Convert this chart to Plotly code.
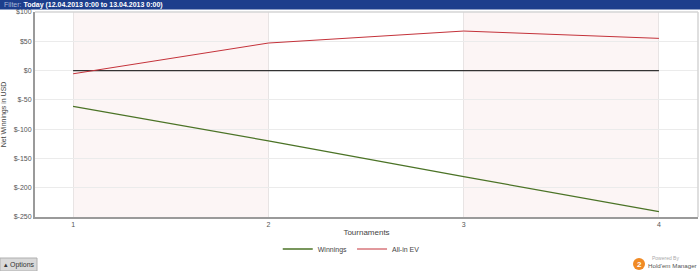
import plotly.graph_objects as go

tournaments = [1, 2, 3, 4]
winnings = [-61, -120, -181, -241]
allin_ev = [-5.5, 47, 67.5, 55]
zero_line = [0, 0, 0, 0]
y_ticks = [100, 50, 0, -50, -100, -150, -200, -250]
y_tick_labels = ["$100", "$50", "$0", "$-50", "$-100", "$-150", "$-200", "$-250"]

W, H = 700, 271
ML, MR, MT, MB = 35, 2, 12, 54
PH = H - MT - MB
PW = W - ML - MR

def py(pix):  # pixel from top -> paper y
    return (H - MB - pix) / PH

def px(pix):
    return (pix - ML) / PW

FONT = "Liberation Sans"
fig = go.Figure()

fig.add_trace(go.Scatter(x=tournaments, y=zero_line, mode="lines",
                         line=dict(color="#333333", width=1.3),
                         showlegend=False, hoverinfo="skip"))
fig.add_trace(go.Scatter(x=tournaments, y=winnings, mode="lines", name="Winnings",
                         line=dict(color="#4b7326", width=1.3)))
fig.add_trace(go.Scatter(x=tournaments, y=allin_ev, mode="lines", name="All-in EV",
                         line=dict(color="#c4323a", width=1)))

shapes = []
for a, b in [(1, 2), (3, 4)]:
    shapes.append(dict(type="rect", xref="x", yref="paper", x0=a, x1=b, y0=0, y1=1,
                       fillcolor="#fcf5f5", line=dict(width=0), layer="below"))
shapes.append(dict(type="line", xref="paper", yref="paper", x0=0, x1=1, y0=1, y1=1,
                   line=dict(color="#d4d4d4", width=1.5)))
shapes.append(dict(type="line", xref="paper", yref="paper", x0=1, x1=1, y0=0, y1=1,
                   line=dict(color="#d4d4d4", width=1.5)))
shapes.append(dict(type="rect", xref="paper", yref="paper", x0=px(0), x1=px(W),
                   y0=py(9.5), y1=py(0), fillcolor="#1d3e8c", line=dict(width=0)))
shapes.append(dict(type="rect", xref="paper", yref="paper", x0=px(0), x1=px(37),
                   y0=py(271), y1=py(258), fillcolor="#d9d9d9",
                   line=dict(color="#b0b0b0", width=1)))
shapes.append(dict(type="circle", xref="paper", yref="paper", x0=px(633), x1=px(645),
                   y0=py(270), y1=py(258), fillcolor="#f08a24", line=dict(width=0)))

annotations = [
    dict(xref="paper", yref="paper", x=px(2), y=py(4.8), xanchor="left", yanchor="middle",
         text="<span style='color:#aab8d8'>Filter:</span> <b>Today (12.04.2013 0:00 to 13.04.2013 0:00)</b>",
         showarrow=False, font=dict(family=FONT, size=7, color="#ffffff")),
    dict(xref="paper", yref="paper", x=px(19), y=py(264.5), xanchor="center", yanchor="middle",
         text="▴ Options", showarrow=False, font=dict(family=FONT, size=7, color="#333333")),
    dict(xref="paper", yref="paper", x=px(639), y=py(264), xanchor="center", yanchor="middle",
         text="<b>2</b>", showarrow=False, font=dict(family=FONT, size=8, color="#ffffff")),
    dict(xref="paper", yref="paper", x=px(650), y=py(258), xanchor="left", yanchor="middle",
         text="Powered By", showarrow=False, font=dict(family=FONT, size=5, color="#aaaaaa")),
    dict(xref="paper", yref="paper", x=px(699), y=py(265), xanchor="right", yanchor="middle",
         text="Hold'em Manager", showarrow=False, font=dict(family=FONT, size=6.2, color="#555555")),
]

fig.update_layout(
    width=W, height=H,
    margin=dict(l=ML, r=MR, t=MT, b=MB, pad=0),
    paper_bgcolor="#ffffff", plot_bgcolor="#ffffff",
    font=dict(family=FONT, size=7, color="#555555"),
    shapes=shapes, annotations=annotations,
    showlegend=True,
    legend=dict(orientation="h", x=0.477, xanchor="center", y=py(249), yanchor="middle",
                font=dict(family=FONT, size=7, color="#444444"), itemwidth=30,
                bgcolor="rgba(0,0,0,0)"),
    xaxis=dict(range=[0.805, 4.2], tickvals=tournaments, ticktext=[str(t) for t in tournaments],
               showgrid=True, gridcolor="#e8e4e4", gridwidth=1, zeroline=False,
               showline=True, linecolor="#9a9a9a", linewidth=2,
               ticks="", tickfont=dict(size=7, color="#555555"),
               title=dict(text="Tournaments", font=dict(size=8, color="#444444"), standoff=2)),
    yaxis=dict(range=[-250, 100], tickvals=y_ticks, ticktext=y_tick_labels,
               showgrid=True, gridcolor="#ebebeb", gridwidth=1, zeroline=False,
               showline=True, linecolor="#9a9a9a", linewidth=2,
               ticks="", ticklen=0, tickfont=dict(size=7, color="#555555"),
               title=dict(text="Net Winnings in USD", font=dict(size=7, color="#444444"), standoff=6)),
)

fig.write_html("out.html")
